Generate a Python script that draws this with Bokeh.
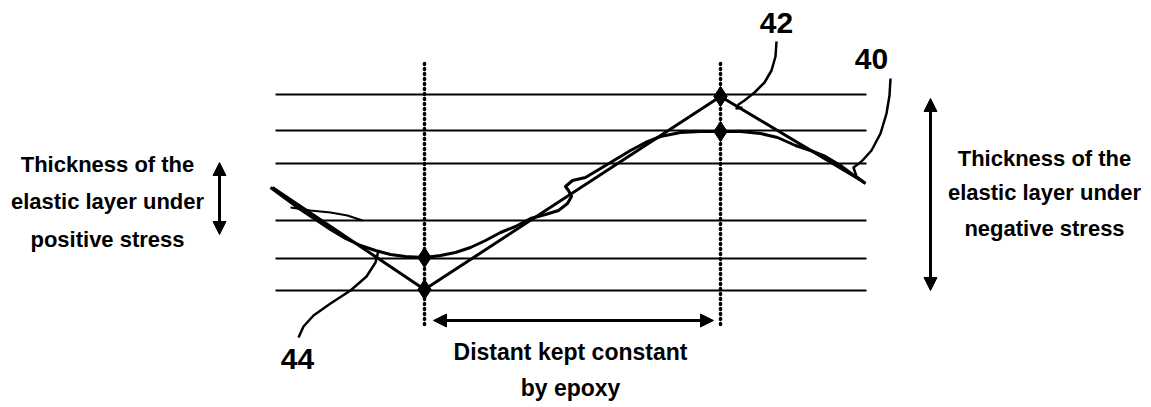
from bokeh.plotting import figure
from bokeh.models import Range1d, Arrow, NormalHead
from bokeh.core.properties import value
from bokeh.embed import file_html
from bokeh.resources import INLINE

# ---- data (image-pixel coordinate system) ----
layer_y = [94, 130, 163, 220, 258, 290]
layer_x0 = [275, 275, 275, 275, 275, 275]
layer_x1 = [866, 866, 866, 866, 866, 866]

guide_x = [424, 720]
guide_top = [63, 63]
guide_bot = [327, 327]

curve_x = [270, 285, 300, 315, 330, 345, 360, 375, 390, 405, 424, 440, 455, 470, 485, 500,
           515, 530, 545, 558, 567, 571, 568, 565, 572, 585, 600, 615, 630, 645, 660,
           680, 700, 720, 740, 760, 777, 795, 810, 825, 840, 852, 865]
curve_y = [187, 198, 209, 219, 229, 238, 245, 250, 254, 256, 257, 255, 252, 247, 240, 232,
           226, 218, 214, 210, 203, 196, 190, 186, 180, 177, 168, 159, 150, 142, 136,
           132, 131, 131, 131, 133, 137, 145, 150, 156, 165, 174, 183]

stroke_x = [290, 310, 330, 347, 362]
stroke_y = [207, 210, 212, 215, 220]

zig_x = [272, 424, 720, 864]
zig_y = [187, 289, 96, 182]

node_x = [424, 424, 720, 720]
node_y = [257, 289, 96, 131]

lead42_x = [776, 775, 771, 764, 754, 744, 738, 736, 742]
lead42_y = [41, 56, 70, 82, 92, 100, 104, 108, 107]
lead40_x = [890, 889, 886, 880, 871, 861, 853, 856, 865]
lead40_y = [78, 95, 113, 133, 150, 161, 167, 176, 183]
lead44_x = [298, 303, 313, 330, 350, 366, 375, 378]
lead44_y = [337, 326, 315, 303, 290, 276, 262, 250]

labels = ["42", "40", "44"]
label_x = [776, 871, 297]
label_y = [22, 58, 358]

left_text = ["Thickness of the", "elastic layer under", "positive stress"]
left_tx = [107, 107, 107]
left_ty = [164, 201, 239]

right_text = ["Thickness of the", "elastic layer under", "negative stress"]
right_tx = [1044, 1044, 1044]
right_ty = [158, 192, 228]

bottom_text = ["Distant kept constant", "by epoxy"]
bottom_tx = [570, 570]
bottom_ty = [351, 387]

# ---- figure ----
p = figure(width=1151, height=407,
           x_range=Range1d(0, 1151), y_range=Range1d(407, 0),
           x_axis_type=None, y_axis_type=None,
           output_backend="svg", toolbar_location=None, min_border=0)
p.grid.visible = False
p.outline_line_color = None
p.background_fill_color = "white"

p.segment(x0=layer_x0, y0=layer_y, x1=layer_x1, y1=layer_y, line_color="black", line_width=2.2)
p.segment(x0=guide_x, y0=guide_top, x1=guide_x, y1=guide_bot, line_color="black",
          line_width=3.5, line_dash="1 4", line_cap="round")

p.line(curve_x, curve_y, line_color="black", line_width=3, line_join="round")
p.line(stroke_x, stroke_y, line_color="black", line_width=2, line_join="round")
p.line(zig_x, zig_y, line_color="black", line_width=3)
p.scatter(node_x, node_y, marker="diamond", size=20, color="black")

for lx, ly in [(lead42_x, lead42_y), (lead40_x, lead40_y), (lead44_x, lead44_y)]:
    p.line(lx, ly, line_color="black", line_width=2.5, line_join="round")

font = value("Liberation Sans")
p.text(label_x, label_y, text=labels, text_align="center", text_baseline="middle",
       text_font=font, text_font_style="bold", text_font_size="30px", text_color="black")
p.text(left_tx, left_ty, text=left_text, text_align="center", text_baseline="middle",
       text_font=font, text_font_style="bold", text_font_size="22px", text_color="black")
p.text(right_tx, right_ty, text=right_text, text_align="center", text_baseline="middle",
       text_font=font, text_font_style="bold", text_font_size="22px", text_color="black")
p.text(bottom_tx, bottom_ty, text=bottom_text, text_align="center", text_baseline="middle",
       text_font=font, text_font_style="bold", text_font_size="23px", text_color="black")

def head():
    return NormalHead(size=13, fill_color="black", line_color="black")

p.add_layout(Arrow(x_start=219, y_start=234, x_end=219, y_end=162, start=head(), end=head(),
                   line_width=3, line_color="black"))
p.add_layout(Arrow(x_start=930, y_start=290, x_end=930, y_end=98, start=head(), end=head(),
                   line_width=3, line_color="black"))
p.add_layout(Arrow(x_start=433, y_start=320, x_end=713, y_end=320, start=head(), end=head(),
                   line_width=3, line_color="black"))

open("out.html", "w").write(file_html(p, INLINE))
